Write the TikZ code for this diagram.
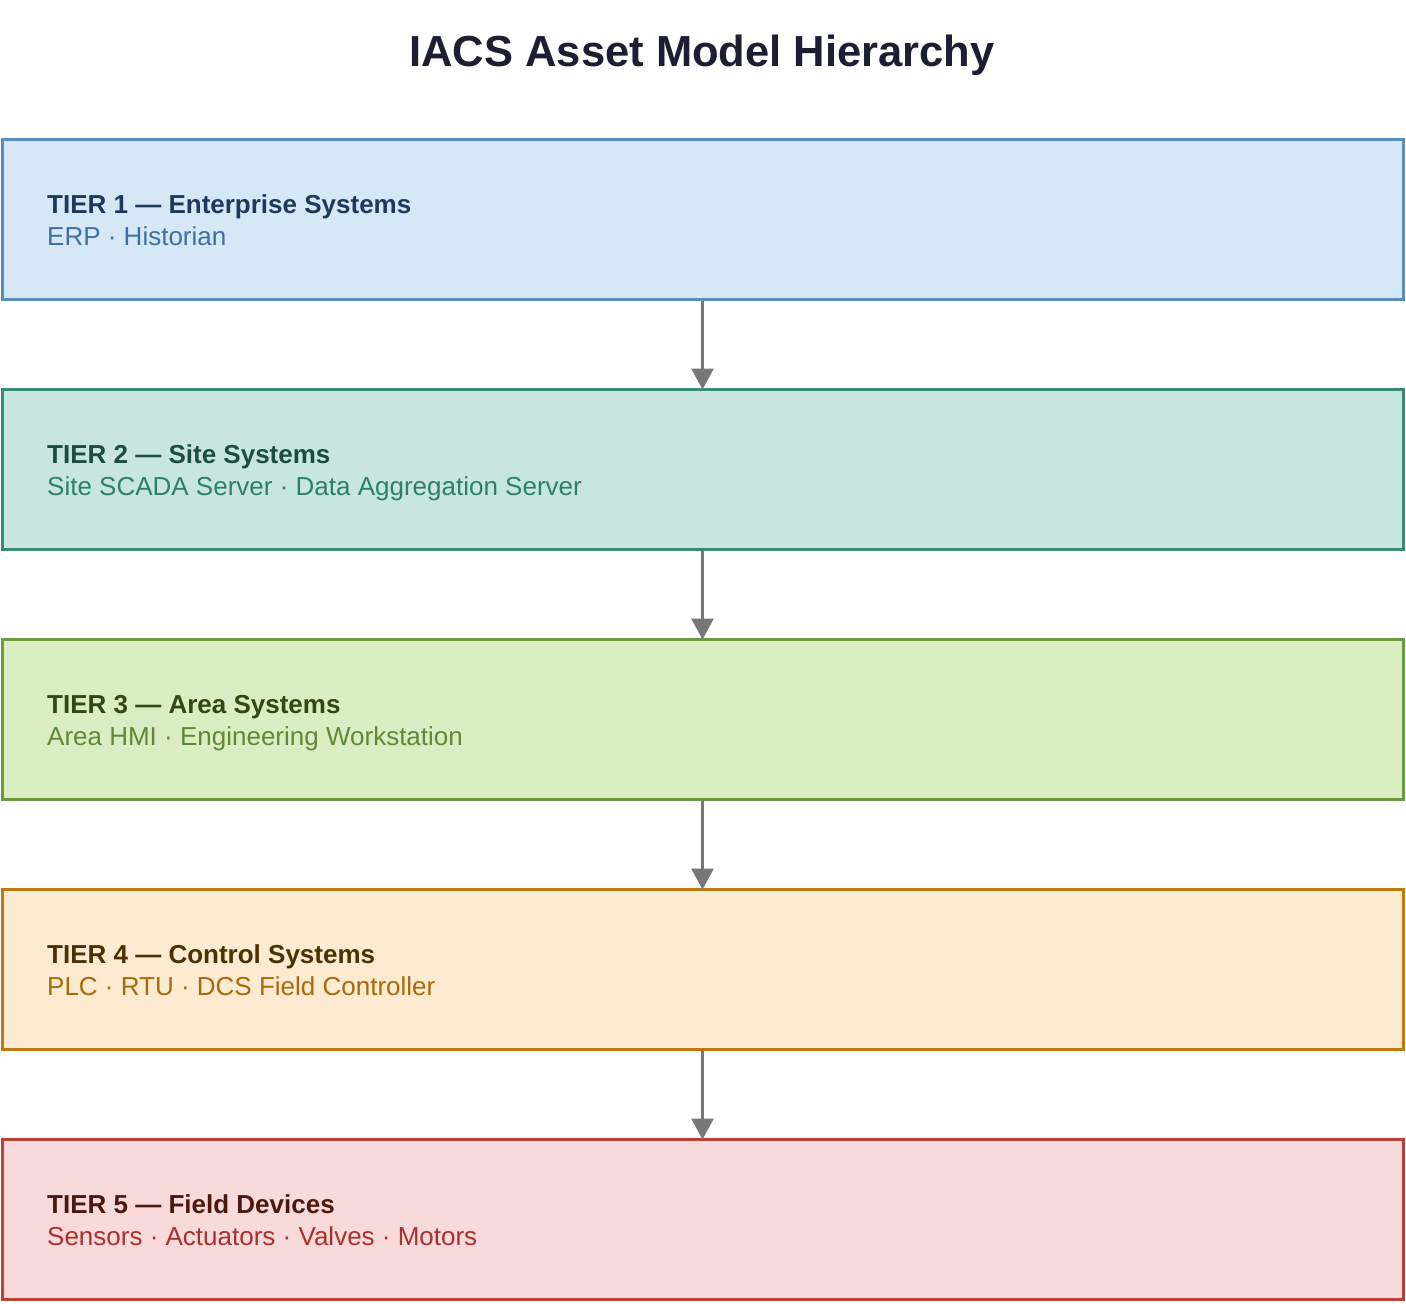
\documentclass[tikz,border=0pt]{standalone}
\usepackage{fontspec}
\setmainfont{Liberation Sans}
\usetikzlibrary{positioning, arrows.meta}

\definecolor{titlecol}{HTML}{1E1E33}
\definecolor{linkcol}{HTML}{777777}
\definecolor{entfill}{HTML}{D6E7F6}\definecolor{entline}{HTML}{5B8DB8}
\definecolor{enthead}{HTML}{1B3A5C}\definecolor{entsub}{HTML}{3F6FA5}
\definecolor{sitefill}{HTML}{C7E6E0}\definecolor{siteline}{HTML}{3A8A78}
\definecolor{sitehead}{HTML}{1D4D40}\definecolor{sitesub}{HTML}{2E8068}
\definecolor{areafill}{HTML}{DBEDC3}\definecolor{arealine}{HTML}{6A9B3E}
\definecolor{areahead}{HTML}{2E4A12}\definecolor{areasub}{HTML}{5E8A35}
\definecolor{ctrlfill}{HTML}{FCEBD0}\definecolor{ctrlline}{HTML}{C07810}
\definecolor{ctrlhead}{HTML}{4A3205}\definecolor{ctrlsub}{HTML}{A86A0A}
\definecolor{fldfill}{HTML}{F8DADA}\definecolor{fldline}{HTML}{B84038}
\definecolor{fldhead}{HTML}{4A1A10}\definecolor{fldsub}{HTML}{A83030}

\tikzset{
  tier/.style={draw=#1line, fill=#1fill, line width=3pt, minimum width=1401pt,
    minimum height=160pt, inner sep=0pt, outer sep=0pt},
  head/.style={anchor=base west, inner sep=0pt, text=#1head,
    font=\fontsize{26}{30}\selectfont\bfseries},
  sub/.style={anchor=base west, inner sep=0pt, text=#1sub,
    font=\fontsize{26}{30}\selectfont},
  link/.style={draw=linkcol, line width=3pt,
    -{Triangle[length=21pt,width=22pt]}}
}

\begin{document}
\begin{tikzpicture}[x=1pt, y=-1pt, node distance=90pt]
  \useasboundingbox (0,0) rectangle (1406,1304);

  % Title
  \node[font=\fontsize{43.5}{48}\selectfont\bfseries, text=titlecol, anchor=base]
    (title) at (702,66) {IACS Asset Model Hierarchy};

  % Tiers
  \node[tier=ent] (t1) at (702.5,219.5) {};
  \node[tier=site] (t2) [below=of t1] {};
  \node[tier=area] (t3) [below=of t2] {};
  \node[tier=ctrl] (t4) [below=of t3] {};
  \node[tier=fld] (t5) [below=of t4] {};

  % Labels
  \node[head=ent] (t1head) at (47,213) {TIER 1 — Enterprise Systems};
  \node[sub=ent] (t1sub) at (47,245) {ERP · Historian};
  \node[head=site] (t2head) at (47,463) {TIER 2 — Site Systems};
  \node[sub=site] (t2sub) at (47,495) {Site SCADA Server · Data Aggregation Server};
  \node[head=area] (t3head) at (47,713) {TIER 3 — Area Systems};
  \node[sub=area] (t3sub) at (47,745) {Area HMI · Engineering Workstation};
  \node[head=ctrl] (t4head) at (47,963) {TIER 4 — Control Systems};
  \node[sub=ctrl] (t4sub) at (47,995) {PLC · RTU · DCS Field Controller};
  \node[head=fld] (t5head) at (47,1213) {TIER 5 — Field Devices};
  \node[sub=fld] (t5sub) at (47,1245) {Sensors · Actuators · Valves · Motors};

  % Links
  \draw[link] (t1.south) ++(0,1.5) -- (t2.north);
  \draw[link] (t2.south) ++(0,1.5) -- (t3.north);
  \draw[link] (t3.south) ++(0,1.5) -- (t4.north);
  \draw[link] (t4.south) ++(0,1.5) -- (t5.north);

\end{tikzpicture}
\end{document}
